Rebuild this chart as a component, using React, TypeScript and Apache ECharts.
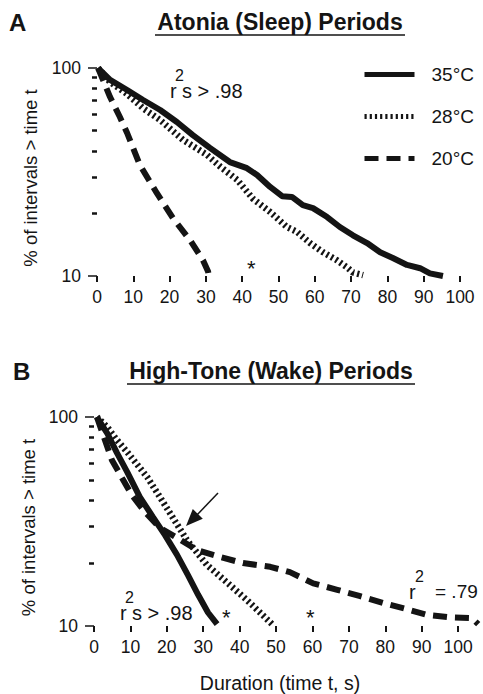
import React, { useEffect, useRef } from "react";
import * as echarts from "echarts";

// ---- Data ----
// Panel A: Atonia (Sleep) periods — duration (s) vs % of intervals > time t
const sleepT35 = [0.3, 3.6, 8.3, 12.7, 17.4, 22, 26.4, 31.1, 36.6, 41.3, 44.1, 47.7, 51, 53.7, 56.7, 59.5, 63.4, 66.9, 70.5, 74.4, 78, 81.5, 85.4, 89, 91.7, 95.3];
const sleepP35 = [100, 87.6, 78.4, 70.2, 62.8, 55, 47.6, 41.3, 35.3, 33, 30.6, 26.8, 24.2, 24, 21.9, 21.2, 19.2, 17.2, 15.7, 14.4, 13, 12.2, 11.3, 10.9, 10.3, 10];
const sleepT28 = [0.3, 3.6, 8.3, 12.7, 17.4, 23.7, 30.3, 34, 38.6, 43, 47.7, 52.3, 55.1, 58.7, 62.3, 66.1, 68.9, 70.5, 73.3];
const sleepP28 = [100, 85.6, 75, 64, 56.2, 45.1, 38.2, 33.5, 29, 23.5, 20.3, 17.2, 16.3, 14.4, 13, 11.9, 11, 10.4, 10.1];
const sleepT20 = [0.3, 3.6, 6.3, 8.3, 11.8, 16.5, 20.9, 25.6, 29.2, 30.6, 30.8];
const sleepP20 = [100, 72.5, 58.1, 48.7, 34.2, 25, 19, 14.9, 11.9, 10.5, 10];

// Panel B: High-Tone (Wake) periods
const wakeT35 = [0.8, 3.6, 6.3, 9.1, 12.6, 16.2, 19.5, 22.8, 25.8, 28.6, 31.3, 33.8];
const wakeP35 = [100, 83.8, 67.3, 54.6, 41.4, 33.2, 27.2, 21.9, 17.5, 14.1, 11.6, 10.2];
const wakeT28 = [0.8, 3.6, 6.3, 9.1, 14.6, 18.1, 21.7, 25.5, 31, 36.8, 42, 45.6, 48.9];
const wakeP28 = [100, 89.6, 77.6, 68, 51.6, 41.4, 32.9, 25.8, 19.6, 16, 13.3, 11.6, 10.2];
const wakeT20 = [0.8, 3, 4.9, 7.7, 10.4, 14, 18.1, 22.8, 28.3, 34.6, 40.9, 48.4, 53.8, 60.2, 66.8, 73.1, 79.4, 85.4, 91.5, 97.8, 103.8, 105.5];
const wakeP20 = [100, 77.6, 62.3, 51.1, 42.3, 35.1, 29.5, 26.4, 23.1, 21.4, 20, 19.2, 18.1, 16, 14.9, 13.9, 12.9, 12.1, 11.3, 11, 10.9, 10.2];

const seriesNames = ["35°C", "28°C", "20°C"];
const xTickValues = [0, 10, 20, 30, 40, 50, 60, 70, 80, 90, 100];
const yMajorTicks = [10, 100];
const yMinorTicks = [20, 30, 40, 50, 60, 70, 80, 90];

const INK = "#141414";
const FONT = "'Liberation Sans', Arial, Helvetica, sans-serif";

const zip = (t: number[], p: number[]) => t.map((v, i) => [v, p[i]]);

const lineStyles: any[] = [
  { width: 6, color: INK, type: "solid" },
  { width: 6.5, color: INK, type: [2.2, 3] },
  { width: 6, color: INK, type: [14, 8] },
];

export default function App() {
  const ref = useRef<HTMLDivElement>(null);

  useEffect(() => {
    if (!ref.current) return;
    const chart = echarts.init(ref.current, null, { renderer: "svg" });

    const xAxisBase = (gridIndex: number, max: number) => ({
      type: "value",
      gridIndex,
      min: 0,
      max,
      axisLine: { show: false },
      splitLine: { show: false },
      axisTick: {
        show: true,
        inside: false,
        length: 6,
        customValues: xTickValues,
        lineStyle: { color: INK, width: 2 },
      },
      axisLabel: {
        customValues: xTickValues,
        margin: 12,
        fontSize: 17.5,
        color: INK,
        fontFamily: FONT,
      },
    });

    const yMajor = (gridIndex: number, gap: number) => ({
      type: "log",
      logBase: 10,
      gridIndex,
      position: "left",
      min: 10,
      max: 100,
      name: "% of intervals > time t",
      nameLocation: "middle",
      nameGap: gap,
      nameRotate: 90,
      nameTextStyle: { fontSize: 18.5, color: INK, fontFamily: FONT, padding: [0, 12, 0, 0] },
      axisLine: { show: false },
      splitLine: { show: false },
      axisTick: {
        show: true,
        length: 9,
        customValues: yMajorTicks,
        lineStyle: { color: INK, width: 1.5 },
      },
      axisLabel: {
        customValues: yMajorTicks,
        margin: 16,
        fontSize: 17.5,
        color: INK,
        fontFamily: FONT,
      },
    });

    const yMinor = (gridIndex: number) => ({
      type: "log",
      logBase: 10,
      gridIndex,
      position: "left",
      min: 10,
      max: 100,
      axisLine: { show: false },
      splitLine: { show: false },
      axisTick: {
        show: true,
        length: 5,
        customValues: yMinorTicks,
        lineStyle: { color: INK, width: 2.5 },
      },
      axisLabel: { show: false },
    });

    const mkSeries = (name: string, idx: number, t: number[], p: number[], axisIdx: number) => ({
      type: "line",
      name,
      xAxisIndex: axisIdx,
      yAxisIndex: axisIdx * 2,
      data: zip(t, p),
      symbol: "none",
      showSymbol: false,
      lineStyle: lineStyles[idx],
      itemStyle: { color: INK },
      z: 3 - idx,
    });

    const txt = (text: string, x: number, y: number, size: number, extra: any = {}) => ({
      type: "text",
      x,
      y,
      style: {
        text,
        fontSize: size,
        fontFamily: FONT,
        fill: INK,
        textVerticalAlign: "middle",
        verticalAlign: "middle",
        ...extra,
      },
    });

    // arrow geometry in panel B
    const tail = [218, 493];
    const tip = [186, 526];

    const option: any = {
      animation: false,
      textStyle: { fontFamily: FONT, color: INK },
      grid: [
        { left: 97, top: 68, width: 363, height: 208 },
        { left: 94, top: 417, width: 386, height: 210 },
      ],
      xAxis: [
        xAxisBase(0, 100),
        {
          ...xAxisBase(1, 106),
          name: "Duration (time t, s)",
          nameLocation: "middle",
          nameGap: 47,
          nameTextStyle: { fontSize: 19.5, color: INK, fontFamily: FONT, padding: [0, 14, 0, 0] },
        },
      ],
      yAxis: [yMajor(0, 57), yMinor(0), yMajor(1, 54), yMinor(1)],
      legend: {
        data: seriesNames,
        orient: "vertical",
        left: 357,
        top: 60,
        itemWidth: 50,
        itemHeight: 18,
        itemGap: 23,
        itemStyle: { opacity: 0 },
        lineStyle: { width: 5 },
        textStyle: { fontSize: 19, color: INK, fontFamily: FONT, padding: [0, 0, 0, 12] },
        selectedMode: false,
      },
      series: [
        mkSeries(seriesNames[0], 0, sleepT35, sleepP35, 0),
        mkSeries(seriesNames[1], 1, sleepT28, sleepP28, 0),
        mkSeries(seriesNames[2], 2, sleepT20, sleepP20, 0),
        mkSeries(seriesNames[0], 0, wakeT35, wakeP35, 1),
        mkSeries(seriesNames[1], 1, wakeT28, wakeP28, 1),
        mkSeries(seriesNames[2], 2, wakeT20, wakeP20, 1),
      ],
      graphic: [
        txt("A", 9, 22, 24, { fontWeight: "bold" }),
        txt("Atonia (Sleep) Periods", 280, 22, 23, { fontWeight: "bold", textAlign: "center", align: "center" }),
        { type: "line", shape: { x1: 155, y1: 35, x2: 405, y2: 35 }, style: { stroke: INK, lineWidth: 1.5 } },
        txt("B", 13, 371, 24, { fontWeight: "bold" }),
        txt("High-Tone (Wake) Periods", 271, 371, 23, { fontWeight: "bold", textAlign: "center", align: "center" }),
        { type: "line", shape: { x1: 127, y1: 384, x2: 415, y2: 384 }, style: { stroke: INK, lineWidth: 1.5 } },
        // Panel A annotations
        txt("r", 170, 91, 20),
        txt("2", 175, 75, 16),
        txt("s > .98", 182, 91, 20),
        txt("*", 247, 268, 22),
        // Panel B annotations
        txt("r", 120, 613, 20),
        txt("2", 125, 597, 16),
        txt("s > .98", 132, 613, 20),
        txt("*", 222, 617, 22),
        txt("*", 306, 617, 22),
        txt("r", 409, 592, 20),
        txt("2", 415, 576, 16),
        txt("= .79", 435, 591, 19),
        { type: "line", shape: { x1: tail[0], y1: tail[1], x2: 196, y2: 516 }, style: { stroke: INK, lineWidth: 1.5 } },
        {
          type: "polygon",
          shape: { points: [[tip[0], tip[1]], [192.8, 508.9], [202.8, 518.7]] },
          style: { fill: INK },
        },
      ],
    };

    chart.setOption(option);
    return () => chart.dispose();
  }, []);

  return <div ref={ref} style={{ width: 483, height: 694, position: "absolute", left: 0, top: 0, background: "#fff" }} />;
}
